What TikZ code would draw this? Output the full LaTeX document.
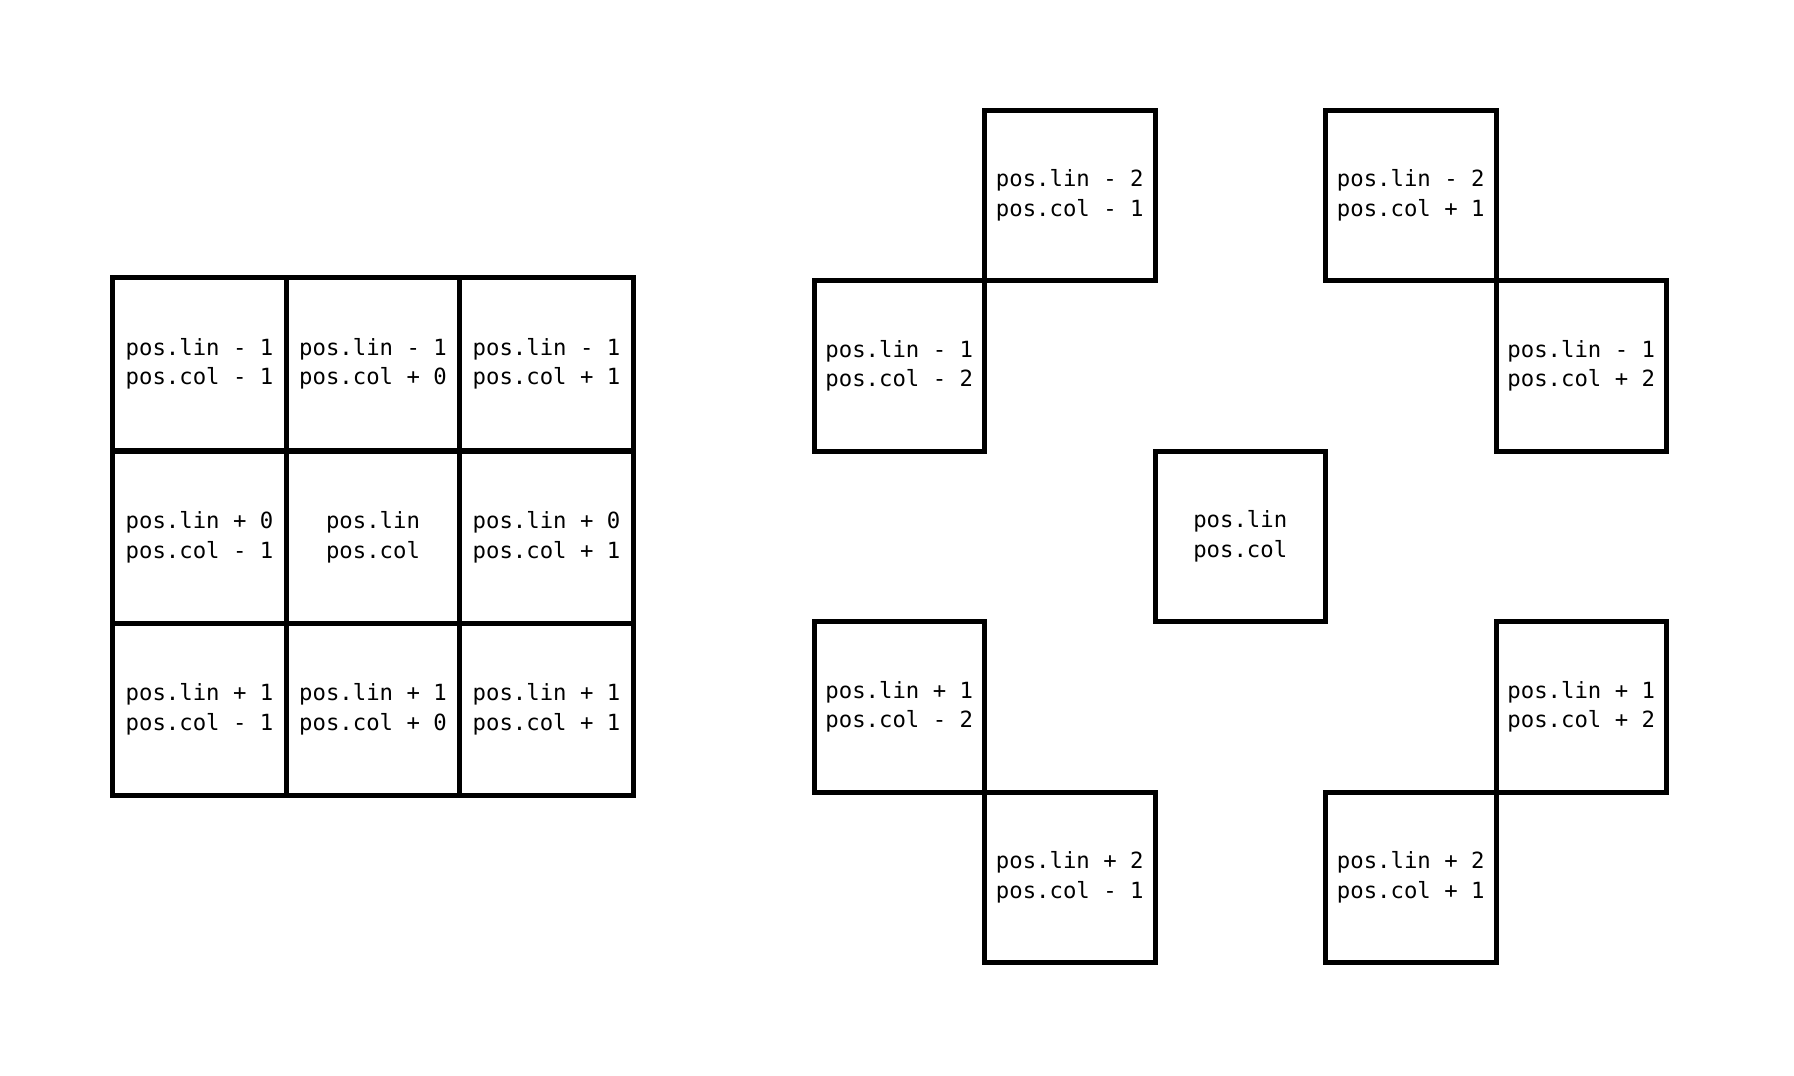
\documentclass[tikz,border=0pt]{standalone}
\usepackage{fontspec}
\setmonofont{DejaVu Sans Mono}
\begin{document}
\begin{tikzpicture}[x=0.5pt,y=-0.5pt,
  cellbox/.style={draw, line width=2.5pt, inner sep=0pt, align=center,
    font=\ttfamily\fontsize{11.15}{14.75}\selectfont},
  gridcell/.style={cellbox, minimum width=86.75pt, minimum height=86.35pt},
  sqcell/.style={cellbox, minimum width=85.25pt, minimum height=85.25pt}]
\useasboundingbox (0,0) rectangle (1794,1076);
% left 3x3 grid
\node[gridcell] (g11) at (199.5,364)   {pos.lin - 1\\pos.col - 1};
\node[gridcell] (g12) at (373,364)     {pos.lin - 1\\pos.col + 0};
\node[gridcell] (g13) at (546.5,364)   {pos.lin - 1\\pos.col + 1};
\node[gridcell] (g21) at (199.5,537.5) {pos.lin + 0\\pos.col - 1};
\node[gridcell] (g22) at (373,537.5)   {pos.lin\\pos.col};
\node[gridcell] (g23) at (546.5,537.5) {pos.lin + 0\\pos.col + 1};
\node[gridcell] (g31) at (199.5,709.5) {pos.lin + 1\\pos.col - 1};
\node[gridcell] (g32) at (373,709.5)   {pos.lin + 1\\pos.col + 0};
\node[gridcell] (g33) at (546.5,709.5) {pos.lin + 1\\pos.col + 1};
% right knight-move squares
\node[sqcell] (k1) at (1069.75,195.25)  {pos.lin - 2\\pos.col - 1};
\node[sqcell] (k2) at (899.25,365.75)   {pos.lin - 1\\pos.col - 2};
\node[sqcell] (k3) at (1410.75,195.25)  {pos.lin - 2\\pos.col + 1};
\node[sqcell] (k4) at (1581.25,365.75)  {pos.lin - 1\\pos.col + 2};
\node[sqcell] (kc) at (1240.25,536.25)  {pos.lin\\pos.col};
\node[sqcell] (k5) at (899.25,706.75)   {pos.lin + 1\\pos.col - 2};
\node[sqcell] (k6) at (1069.75,877.25)  {pos.lin + 2\\pos.col - 1};
\node[sqcell] (k7) at (1581.25,706.75)  {pos.lin + 1\\pos.col + 2};
\node[sqcell] (k8) at (1410.75,877.25)  {pos.lin + 2\\pos.col + 1};
\end{tikzpicture}
\end{document}
